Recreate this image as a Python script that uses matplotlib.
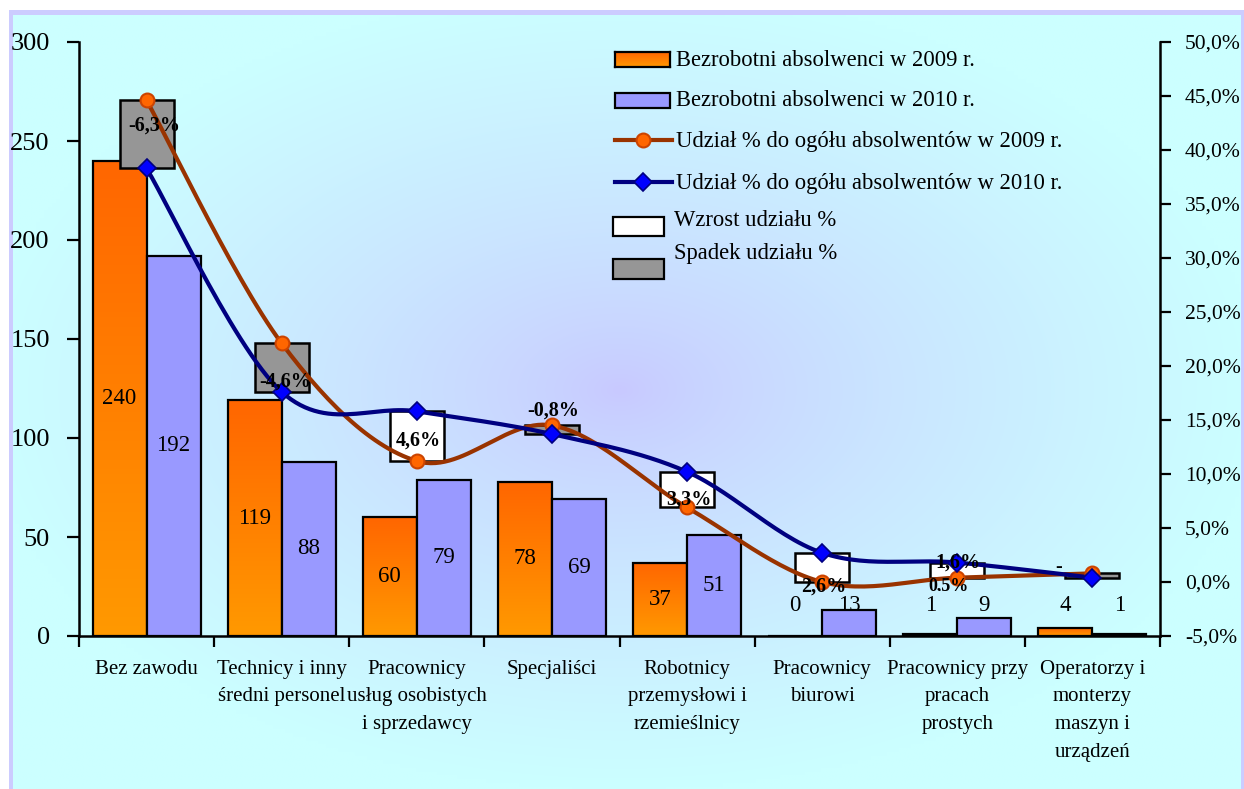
import numpy as np
import matplotlib
matplotlib.use("Agg")
import matplotlib.pyplot as plt
from matplotlib.patches import Rectangle
from matplotlib.lines import Line2D
from matplotlib.transforms import Bbox, TransformedBbox

plt.rcParams['font.family'] = ['Liberation Serif', 'DejaVu Serif']

# ---------------- data ----------------
categories = ["Bez zawodu", "Technicy i inny\nśredni personel",
              "Pracownicy\nusług osobistych\ni sprzedawcy", "Specjaliści",
              "Robotnicy\nprzemysłowi i\nrzemieślnicy", "Pracownicy\nbiurowi",
              "Pracownicy przy\npracach\nprostych",
              "Operatorzy i\nmonterzy\nmaszyn i\nurządzeń"]
unemployed_2009 = [240, 119, 60, 78, 37, 0, 1, 4]
unemployed_2010 = [192, 88, 79, 69, 51, 13, 9, 1]
share_2009 = [44.6, 22.1, 11.2, 14.5, 6.9, 0.0, 0.4, 0.8]
share_2010 = [38.3, 17.6, 15.8, 13.7, 10.2, 2.7, 1.8, 0.4]
change_labels = ["-6,3%", "-4,6%", "4,6%", "-0,8%", "3,3%", "2,6%", "1,6%", "-"]
extra_label = "0,5%"
left_ticks = [0, 50, 100, 150, 200, 250, 300]
right_ticks = [-5, 0, 5, 10, 15, 20, 25, 30, 35, 40, 45, 50]

legend_labels = ["Bezrobotni absolwenci w 2009 r.", "Bezrobotni absolwenci w 2010 r.",
                 "Udział % do ogółu absolwentów w 2009 r.",
                 "Udział % do ogółu absolwentów w 2010 r.",
                 "Wzrost udziału %", "Spadek udziału %"]

# ---------------- layout / style ----------------
W, H = 1244, 789
C_ORANGE_TOP = np.array([0xFF, 0x66, 0x00]) / 255
C_ORANGE_BOT = np.array([0xFF, 0x99, 0x00]) / 255
C_LAV = "#9999FF"
C_LINE09 = "#993300"
C_MARK09 = "#FF6600"
C_LINE10 = "#000080"
C_MARK10 = "#0000FF"
C_GRAY = "#969696"

fig = plt.figure(figsize=(W / 100, H / 100), dpi=100)

# background
bg = fig.add_axes([0, 0, 1, 1], zorder=-5)
bg.set_xlim(0, W)
bg.set_ylim(H, 0)
bg.axis("off")
bg.add_patch(Rectangle((9, 10), W - 9, H - 10, color="#CCCCFF", lw=0, zorder=1))
gx = np.linspace(13, W - 3, 300)
gy = np.linspace(15, H, 200)
GX, GY = np.meshgrid(gx, gy)
d = np.sqrt(((GX - 620) / 640) ** 2 + ((GY - 390) / 400) ** 2)
d = np.clip(d, 0, 1) ** 0.75
center = np.array([0xC8, 0xC8, 0xFF]) / 255
edge = np.array([0xCC, 0xFF, 0xFF]) / 255
img = center[None, None, :] * (1 - d[..., None]) + edge[None, None, :] * d[..., None]
bg.imshow(img, extent=(13, W - 3, H, 15), aspect="auto", interpolation="bilinear", zorder=2)
bg.set_xlim(0, W)
bg.set_ylim(H, 0)

# main axes
L, R, T, B = 79, 1160, 42, 636
ax = fig.add_axes([L / W, 1 - B / H, (R - L) / W, (B - T) / H])
ax.patch.set_alpha(0)
n = len(categories)
x = np.arange(n)
bw = 0.4

bars09 = ax.bar(x - bw / 2, unemployed_2009, bw, facecolor="none",
                edgecolor="black", linewidth=1.6, zorder=3)
grad = np.linspace(0, 1, 100)[:, None, None]
gimg = C_ORANGE_TOP[None, None, :] * (1 - grad) + C_ORANGE_BOT[None, None, :] * grad
for b in bars09:
    h = b.get_height()
    if h <= 0:
        continue
    im = ax.imshow(gimg, extent=(b.get_x(), b.get_x() + b.get_width(), 0, h),
                   aspect="auto", origin="upper", zorder=2)
    im.set_clip_path(b)
bars10 = ax.bar(x + bw / 2, unemployed_2010, bw, color=C_LAV,
                edgecolor="black", linewidth=1.6, zorder=3)

for xi, v in zip(x - bw / 2, unemployed_2009):
    ax.text(xi, max(v / 2, 15.5), str(v), ha="center", va="center", fontsize=16.5, zorder=5)
for xi, v in zip(x + bw / 2, unemployed_2010):
    ax.text(xi, max(v / 2, 15.5), str(v), ha="center", va="center", fontsize=16.5, zorder=5)

ax.set_xlim(-0.5, n - 0.5)
ax.set_ylim(0, 300)
ax.set_yticks(left_ticks)
ax.set_yticklabels([str(t) for t in left_ticks], fontsize=19)
ax.tick_params(axis="y", direction="out", length=9, width=1.6, pad=12)
ax.set_xticks(np.arange(n + 1) - 0.5)
ax.set_xticklabels([])
ax.tick_params(axis="x", which="major", direction="out", length=8, width=1.6)
ax.set_xticks(x, minor=True)
ax.set_xticklabels(categories, minor=True, fontsize=15, linespacing=1.62, va="top")
ax.tick_params(axis="x", which="minor", length=0, pad=17)
for s in ["top", "right"]:
    ax.spines[s].set_visible(False)
for s in ["left", "bottom"]:
    ax.spines[s].set_linewidth(1.8)

# secondary axis
ax2 = ax.twinx()
ax2.set_ylim(-5, 50)
ax2.set_yticks(right_ticks)
ax2.set_yticklabels([f"{t:.1f}%".replace(".", ",") for t in right_ticks], fontsize=15.5)
ax2.tick_params(axis="y", direction="out", length=8, width=1.6, pad=10)
for s in ["top", "left", "bottom"]:
    ax2.spines[s].set_visible(False)
ax2.spines["right"].set_linewidth(1.8)

# up/down boxes
for xi, a, b in zip(x, share_2009, share_2010):
    lo, hi = min(a, b), max(a, b)
    fc = "white" if b > a else C_GRAY
    ax2.add_patch(Rectangle((xi - bw / 2, lo), bw, hi - lo, facecolor=fc,
                            edgecolor="black", linewidth=1.8, zorder=2))


def smooth(xs, ys, steps=30):
    xs = np.asarray(xs, float)
    ys = np.asarray(ys, float)
    P = np.column_stack([xs, ys])
    out = []
    for i in range(len(P) - 1):
        p0 = P[i - 1] if i > 0 else P[i]
        p1 = P[i]
        p2 = P[i + 1]
        p3 = P[i + 2] if i + 2 < len(P) else P[i + 1]
        c1 = p1 + (p2 - p0) / 6
        c2 = p2 - (p3 - p1) / 6
        t = np.linspace(0, 1, steps)[:, None]
        seg = ((1 - t) ** 3) * p1 + 3 * ((1 - t) ** 2) * t * c1 + 3 * (1 - t) * t ** 2 * c2 + t ** 3 * p2
        out.append(seg if i == 0 else seg[1:])
    out = np.vstack(out)
    return out[:, 0], out[:, 1]


sx, sy = smooth(x, share_2009)
ax2.plot(sx, sy, color=C_LINE09, lw=3, zorder=4, solid_capstyle="round")
ax2.plot(x, share_2009, ls="none", marker="o", ms=10, mfc=C_MARK09, mec="#CC4400", mew=1.5, zorder=5)
sx, sy = smooth(x, share_2010)
ax2.plot(sx, sy, color=C_LINE10, lw=3, zorder=4, solid_capstyle="round")
ax2.plot(x, share_2010, ls="none", marker="D", ms=9, mfc=C_MARK10, mec=C_LINE10, mew=1.2, zorder=5)

# change labels: offsets in pixels relative to box top
label_offsets = [(8, -25), (3, -38), (1, -29), (1, 15), (2, -28), (2, -34), (1, 0), (-34, 6)]
for xi, a, b, lab, (dx, dy) in zip(x, share_2009, share_2010, change_labels, label_offsets):
    ax2.annotate(lab, (xi, max(a, b)), xytext=(dx, dy), textcoords="offset pixels",
                 ha="center", va="center", fontsize=14.5, fontweight="bold", zorder=6)
t = ax2.annotate(extra_label, (x[6], share_2009[6]), xytext=(-9, -8), textcoords="offset pixels",
                 ha="center", va="center", fontsize=13, fontweight="bold", zorder=6)
t.set_clip_on(True)
t.set_clip_box(TransformedBbox(Bbox([[5.5, -0.85], [6.5, 50]]), ax2.transData))

# legend (drawn manually, figure pixel coordinates)
def fx(px):
    return px / W


def fy(py):
    return 1 - py / H


tr = fig.transFigure
fs_leg = 16.3
lx0, lx1 = 615, 670
ax_leg = fig.add_axes([fx(lx0), fy(67), fx(lx1 - lx0), (67 - 52) / H], zorder=10)
ax_leg.imshow(gimg, aspect="auto", extent=(0, 1, 0, 1))
ax_leg.set_xticks([]); ax_leg.set_yticks([])
for s in ax_leg.spines.values():
    s.set_linewidth(1.6)
fig.add_artist(Rectangle((fx(lx0), fy(108)), fx(lx1 - lx0), (108 - 93) / H, transform=tr,
                         facecolor=C_LAV, edgecolor="black", lw=1.6))
fig.add_artist(Line2D([fx(615), fx(672)], [fy(140), fy(140)], transform=tr, color=C_LINE09, lw=3))
fig.add_artist(Line2D([fx(643)], [fy(140)], transform=tr, ls="none", marker="o", ms=10,
                      mfc=C_MARK09, mec="#CC4400", mew=1.5))
fig.add_artist(Line2D([fx(615), fx(672)], [fy(182), fy(182)], transform=tr, color=C_LINE10, lw=3))
fig.add_artist(Line2D([fx(643)], [fy(182)], transform=tr, ls="none", marker="D", ms=9,
                      mfc=C_MARK10, mec=C_LINE10, mew=1.2))
fig.add_artist(Rectangle((fx(613), fy(236)), fx(51), 19 / H, transform=tr,
                         facecolor="white", edgecolor="black", lw=1.6))
fig.add_artist(Rectangle((fx(613), fy(279)), fx(51), 20 / H, transform=tr,
                         facecolor=C_GRAY, edgecolor="black", lw=1.6))
text_pos = [(676, 61), (676, 101), (676, 142), (676, 184), (674, 221), (674, 254)]
for (tx, ty), lab in zip(text_pos, legend_labels):
    fig.text(fx(tx), fy(ty), lab, ha="left", va="center", fontsize=fs_leg)

fig.savefig("out.png", dpi=100)
